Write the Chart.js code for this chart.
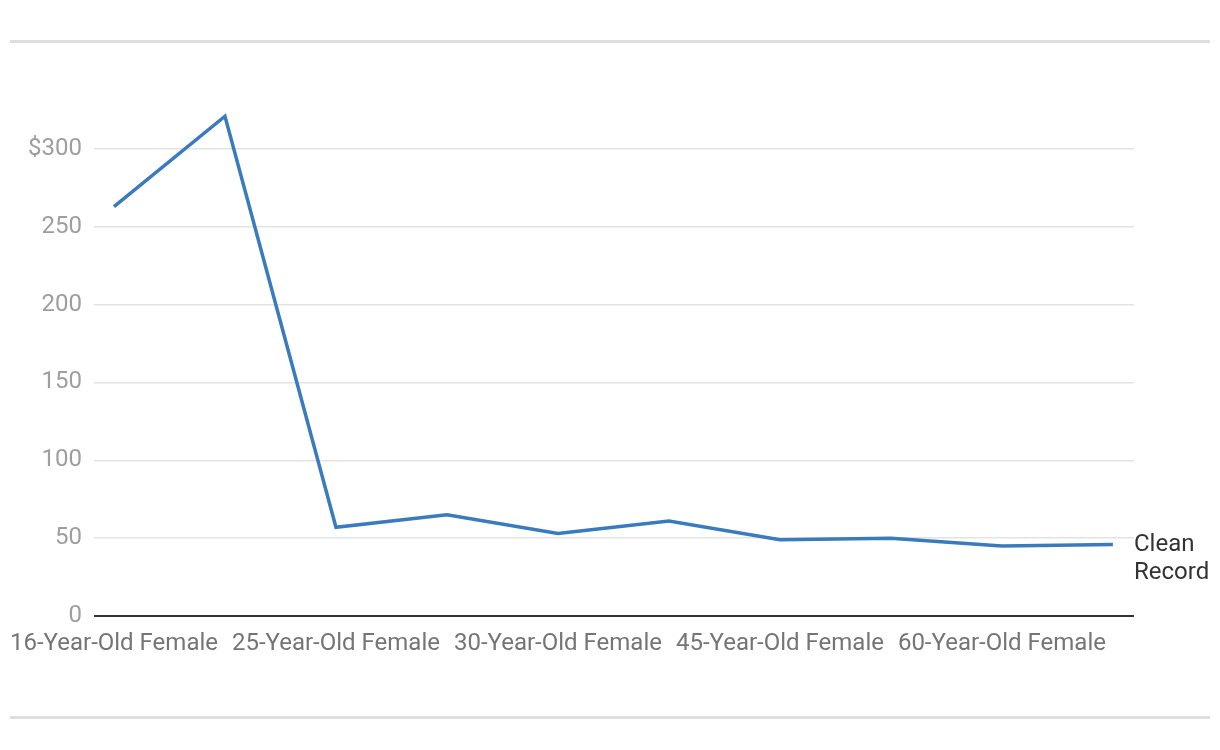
<!DOCTYPE html>
<html>
<head>
<meta charset="utf-8">
<script src="https://cdn.jsdelivr.net/npm/chart.js@4"></script>
<style>
  body { margin: 0; background: #fff; }
  #wrap { position: relative; width: 1220px; height: 750px; }
  .rule { position: absolute; left: 10px; width: 1200px; height: 3px; background: #dedede; }
</style>
</head>
<body>
<div id="wrap">
  <div class="rule" style="top:40px"></div>
  <canvas id="chart" width="1220" height="750"></canvas>
  <div class="rule" style="top:716px"></div>
</div>
<script>
// categories (only every other one is labelled on the axis)
const categories = [
  '16-Year-Old Female', '16-Year-Old Male',
  '25-Year-Old Female', '25-Year-Old Male',
  '30-Year-Old Female', '30-Year-Old Male',
  '45-Year-Old Female', '45-Year-Old Male',
  '60-Year-Old Female', '60-Year-Old Male'
];
const shownTicks = [0, 2, 4, 6, 8];
const seriesName = ['Clean', 'Record'];
const cleanRecord = [263, 321, 57, 65, 53, 61, 49, 50, 45, 46];
const yTicks = [0, 50, 100, 150, 200, 250, 300];

const ctx = document.getElementById('chart').getContext('2d');

// label at the end of the line
const endLabel = {
  id: 'endLabel',
  afterDatasetsDraw(chart) {
    const meta = chart.getDatasetMeta(0);
    const last = meta.data[meta.data.length - 1];
    const c = chart.ctx;
    c.save();
    c.font = '24px Roboto';
    c.fillStyle = '#333';
    c.textBaseline = 'middle';
    c.fillText(seriesName[0], chart.chartArea.right, last.y + 1);
    c.fillText(seriesName[1], chart.chartArea.right, last.y + 29);
    c.restore();
  }
};

new Chart(ctx, {
  type: 'line',
  data: {
    datasets: [{
      label: seriesName.join(' '),
      data: cleanRecord.map((v, i) => ({ x: i, y: v })),
      borderColor: '#3a7bbd',
      borderWidth: 3.5,
      pointRadius: 0,
      tension: 0,
      fill: false
    }]
  },
  options: {
    responsive: false,
    animation: false,
    layout: { padding: { top: 96, right: 86, left: 0, bottom: 0 } },
    plugins: { legend: { display: false }, tooltip: { enabled: false } },
    scales: {
      x: {
        type: 'linear',
        min: -0.18,
        max: 9.19,
        afterBuildTicks: s => { s.ticks = shownTicks.map(v => ({ value: v })); },
        afterFit: s => { s.height = 134; },
        grid: { display: false },
        border: { display: false },
        ticks: {
          autoSkip: false,
          maxRotation: 0,
          padding: 6,
          color: '#757575',
          font: { family: 'Roboto', size: 24 },
          callback: v => categories[v]
        }
      },
      y: {
        min: 0,
        max: 334,
        afterBuildTicks: s => { s.ticks = yTicks.map(v => ({ value: v })); },
        afterFit: s => { s.width = 94; },
        border: { display: false },
        grid: {
          drawTicks: false,
          color: c => c.tick.value === 0 ? '#333' : '#e3e3e3',
          lineWidth: c => c.tick.value === 0 ? 2 : 1.5
        },
        ticks: {
          padding: 12,
          color: '#9e9e9e',
          font: { family: 'Roboto', size: 24 },
          callback: v => v === 300 ? '$300' : v
        }
      }
    }
  },
  plugins: [endLabel]
});
</script>
</body>
</html>
